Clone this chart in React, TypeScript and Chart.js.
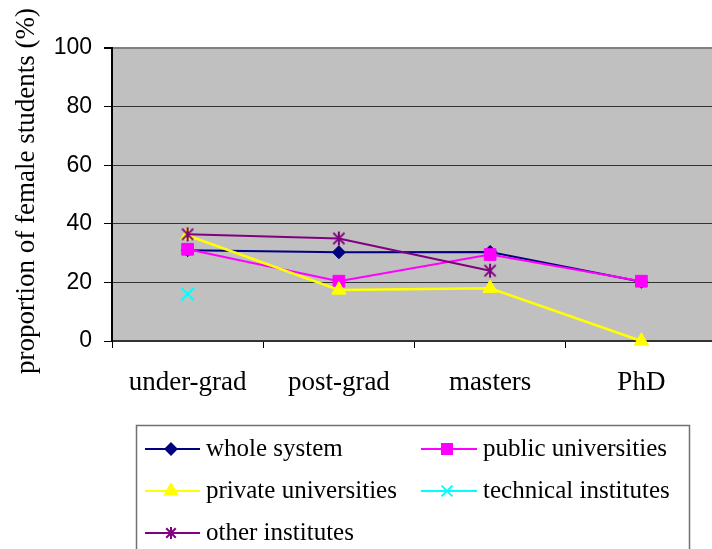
import React, { useEffect, useRef } from 'react';
import { Chart, registerables } from 'chart.js';
import { drawPoint } from 'chart.js/helpers';

Chart.register(...registerables);

const categories = ['under-grad', 'post-grad', 'masters', 'PhD'];
const wholeSystem = [31, 30.3, 30.4, 20.2];
const publicUniversities = [31.3, 20.4, 29.5, 20.4];
const privateUniversities = [36, 17.4, 18, 0];
const technicalInstitutes = [16, null, null, null];
const otherInstitutes = [36.4, 35, 24, null];
const yTitle = 'proportion of female students (%)';

const seriesNames = ['whole system', 'public universities', 'private universities', 'technical institutes', 'other institutes'];
const seriesColors = ['#000080', '#ff00ff', '#ffff00', '#00ffff', '#800080'];
const seriesRadius = [6.5, 8.3, 8.3, 9, 7.5];
const seriesData = [wholeSystem, publicUniversities, privateUniversities, technicalInstitutes, otherInstitutes];

const W = 728;
const H = 549;

function makeAsterisk(color: string, size: number) {
  const c = document.createElement('canvas');
  c.width = size;
  c.height = size;
  const g = c.getContext('2d')!;
  const m = size / 2;
  const r = size / 2 - 1;
  const d = r * 0.8;
  g.strokeStyle = color;
  g.lineWidth = 2;
  g.beginPath();
  g.moveTo(m, m - r);
  g.lineTo(m, m + r);
  g.moveTo(m - d, m - d);
  g.lineTo(m + d, m + d);
  g.moveTo(m + d, m - d);
  g.lineTo(m - d, m + d);
  g.stroke();
  return c;
}

export default function App() {
  const ref = useRef<HTMLCanvasElement>(null);
  useEffect(() => {
    const canvas = ref.current;
    if (!canvas) return;

    const star = makeAsterisk(seriesColors[4], 16);
    const starSmall = makeAsterisk(seriesColors[4], 14);
    const seriesStyles: any[] = ['rectRot', 'rect', 'triangle', 'crossRot', star];
    const legendStyles: any[] = ['rectRot', 'rect', 'triangle', 'crossRot', starSmall];

    const bgPlugin = {
      id: 'bg',
      beforeDraw(chart: any) {
        const { ctx, chartArea: a } = chart;
        ctx.save();
        ctx.fillStyle = '#c0c0c0';
        ctx.fillRect(a.left, a.top, a.right - a.left, a.bottom - a.top);
        ctx.restore();
      },
    };

    const extrasPlugin = {
      id: 'extras',
      afterDraw(chart: any) {
        const ctx = chart.ctx;
        // y title
        ctx.save();
        ctx.translate(27, 191);
        ctx.rotate(-Math.PI / 2);
        ctx.font = '27px "Liberation Serif"';
        ctx.fillStyle = '#000';
        ctx.textAlign = 'center';
        ctx.textBaseline = 'middle';
        ctx.fillText(yTitle, 0, 0);
        ctx.restore();

        // legend
        ctx.save();
        ctx.strokeStyle = '#707070';
        ctx.lineWidth = 1.5;
        ctx.strokeRect(136.5, 425.5, 553, 160);
        const cols = [
          { x0: 145, x1: 200, mx: 171, tx: 206 },
          { x0: 421, x1: 477, mx: 447, tx: 483 },
        ];
        const rows = [449, 491, 533];
        ctx.font = '25px "Liberation Serif"';
        ctx.textAlign = 'left';
        ctx.textBaseline = 'alphabetic';
        seriesNames.forEach((name, i) => {
          const c = cols[i % 2];
          const y = rows[Math.floor(i / 2)];
          const col = seriesColors[i];
          ctx.strokeStyle = col;
          ctx.lineWidth = 2;
          ctx.beginPath();
          ctx.moveTo(c.x0, y);
          ctx.lineTo(c.x1, y);
          ctx.stroke();
          ctx.fillStyle = col;
          ctx.strokeStyle = col;
          ctx.lineWidth = 2;
          drawPoint(ctx, { pointStyle: legendStyles[i], rotation: 0, radius: seriesRadius[i] * 0.85, borderWidth: 2 } as any, c.mx, y);
          ctx.fillStyle = '#000';
          ctx.fillText(name, c.tx, y + 7);
        });
        ctx.restore();
      },
    };

    const datasets = seriesData.map((d, i) => ({
      label: seriesNames[i],
      data: d,
      borderColor: seriesColors[i],
      backgroundColor: seriesColors[i],
      pointBackgroundColor: seriesColors[i],
      pointBorderColor: seriesColors[i],
      pointStyle: seriesStyles[i],
      pointRadius: seriesRadius[i],
      pointBorderWidth: i === 3 || i === 4 ? 2 : 1,
      borderWidth: i === 2 ? 2.5 : 2,
      tension: 0,
      fill: false,
      clip: false,
      order: 5 - i,
    }));

    const chart = new Chart(canvas, {
      type: 'line',
      data: { labels: categories, datasets: datasets as any },
      options: {
        responsive: false,
        animation: false,
        devicePixelRatio: 1,
        layout: { padding: { top: 48, right: 2, left: 0, bottom: 0 } },
        plugins: { legend: { display: false }, tooltip: { enabled: false } },
        scales: {
          x: {
            type: 'category',
            offset: true,
            grid: {
              offset: true,
              drawOnChartArea: false,
              drawTicks: true,
              tickLength: 7,
              tickColor: '#000',
              tickWidth: 1,
            },
            border: { color: '#333', width: 2 },
            ticks: {
              font: { family: 'Liberation Serif', size: 27 },
              color: '#000',
              padding: 19,
              maxRotation: 0,
              autoSkip: false,
            },
            afterFit: (s: any) => {
              s.height = H - 341;
            },
          },
          y: {
            min: 0,
            max: 100,
            ticks: {
              stepSize: 20,
              font: { family: 'Liberation Sans', size: 23 },
              color: '#000',
              padding: 12,
            },
            grid: {
              color: (c: any) => (c.tick && c.tick.value === 100 ? '#808080' : '#333'),
              lineWidth: (c: any) => (c.tick && c.tick.value === 100 ? 2 : 1),
              tickLength: 8,
              tickColor: '#000',
              drawTicks: true,
            },
            border: { color: '#000', width: 2 },
            afterFit: (s: any) => {
              s.width = 112;
            },
          },
        },
      },
      plugins: [bgPlugin, extrasPlugin],
    });
    return () => chart.destroy();
  }, []);

  return (
    <div style={{ position: 'fixed', left: 0, top: 0, width: W, height: H }}>
      <canvas ref={ref} width={W} height={H} style={{ display: 'block', width: W, height: H }} />
    </div>
  );
}
